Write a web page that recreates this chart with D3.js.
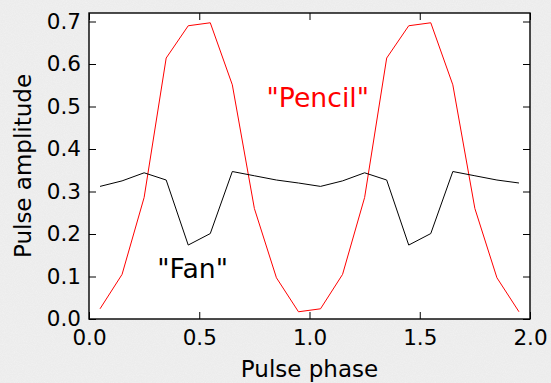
<!DOCTYPE html>
<html>
<head>
<meta charset="utf-8">
<script src="https://cdn.jsdelivr.net/npm/d3@7"></script>
<style>
  html, body { margin: 0; padding: 0; background: #efefef; }
  svg { display: block; }
  text { font-family: "DejaVu Sans", sans-serif; }
</style>
</head>
<body>
<svg id="chart" width="551" height="383"></svg>
<script>
// Pulse profile sampled at phase bin centres over two rotations
const phase = [0.05, 0.15, 0.25, 0.35, 0.45, 0.55, 0.65, 0.75, 0.85, 0.95,
               1.05, 1.15, 1.25, 1.35, 1.45, 1.55, 1.65, 1.75, 1.85, 1.95];
const pencil = [0.024, 0.105, 0.286, 0.614, 0.690, 0.697, 0.551, 0.260, 0.097, 0.017,
                0.024, 0.105, 0.286, 0.614, 0.690, 0.697, 0.551, 0.260, 0.097, 0.017];
const fan = [0.312, 0.325, 0.344, 0.327, 0.174, 0.201, 0.347, 0.337, 0.327, 0.320,
             0.312, 0.325, 0.344, 0.327, 0.174, 0.201, 0.347, 0.337, 0.327, 0.320];
const xTicks = [0.0, 0.5, 1.0, 1.5, 2.0];
const yTicks = [0.0, 0.1, 0.2, 0.3, 0.4, 0.5, 0.6, 0.7];
const xDomain = [0, 2];
const yDomain = [0, 0.72];

const W = 551, H = 383;
const margin = { left: 89, top: 13, right: 21, bottom: 64 };
const iw = W - margin.left - margin.right;
const ih = H - margin.top - margin.bottom;

const svg = d3.select("#chart");

// speckled paper-like page background
const defs = svg.append("defs");
const grain = defs.append("filter").attr("id", "grain")
  .attr("x", 0).attr("y", 0).attr("width", "100%").attr("height", "100%");
grain.append("feTurbulence").attr("type", "fractalNoise")
  .attr("baseFrequency", 0.9).attr("numOctaves", 2).attr("seed", 7).attr("result", "noise");
grain.append("feColorMatrix").attr("in", "noise").attr("type", "matrix")
  .attr("values", "0 0 0 0 1  0 0 0 0 1  0 0 0 0 1  0.55 0 0 0 -0.22")
  .attr("result", "speck");
grain.append("feComposite").attr("in", "speck").attr("in2", "SourceGraphic").attr("operator", "over");
svg.append("rect").attr("width", W).attr("height", H).attr("fill", "#ececec").attr("filter", "url(#grain)");

const g = svg.append("g").attr("transform", `translate(${margin.left},${margin.top})`);

const x = d3.scaleLinear().domain(xDomain).range([0, iw]);
const y = d3.scaleLinear().domain(yDomain).range([ih, 0]);

// plot area
g.append("rect").attr("width", iw).attr("height", ih).attr("fill", "#ffffff");

// data lines
const line = vals => d3.line().x((d, i) => x(phase[i])).y(d => y(d))(vals);
g.append("path").attr("d", line(pencil)).attr("fill", "none")
  .attr("stroke", "#ff0000").attr("stroke-width", 1.0).attr("stroke-linejoin", "round");
g.append("path").attr("d", line(fan)).attr("fill", "none")
  .attr("stroke", "#000000").attr("stroke-width", 1.0).attr("stroke-linejoin", "round");

// axes with inward ticks on all four sides
const tickLen = 7;
const fmt = d3.format(".1f");
const styleAxis = sel => {
  sel.select(".domain").remove();
  sel.selectAll(".tick line").attr("stroke", "#000").attr("stroke-width", 1);
  sel.selectAll(".tick text").attr("fill", "#000")
    .style("font-family", "DejaVu Sans, sans-serif").style("font-size", "21.5px");
};

g.append("g").attr("transform", `translate(0,${ih})`)
  .call(d3.axisBottom(x).tickValues(xTicks).tickFormat(fmt).tickSizeInner(-tickLen).tickSizeOuter(0).tickPadding(11))
  .call(styleAxis);
g.append("g")
  .call(d3.axisTop(x).tickValues(xTicks).tickFormat("").tickSizeInner(-tickLen).tickSizeOuter(0))
  .call(styleAxis);
g.append("g")
  .call(d3.axisLeft(y).tickValues(yTicks).tickFormat(fmt).tickSizeInner(-tickLen).tickSizeOuter(0).tickPadding(8))
  .call(styleAxis);
g.append("g").attr("transform", `translate(${iw},0)`)
  .call(d3.axisRight(y).tickValues(yTicks).tickFormat("").tickSizeInner(-tickLen).tickSizeOuter(0))
  .call(styleAxis);

// frame
g.append("rect").attr("width", iw).attr("height", ih)
  .attr("fill", "none").attr("stroke", "#000").attr("stroke-width", 1.4);

// axis titles
svg.append("text")
  .attr("x", margin.left + iw / 2).attr("y", 377)
  .attr("text-anchor", "middle").style("font-size", "23px").attr("fill", "#000")
  .text("Pulse phase");
svg.append("text")
  .attr("transform", `translate(31,${margin.top + ih / 2}) rotate(-90)`)
  .attr("text-anchor", "middle").style("font-size", "23px").attr("fill", "#000")
  .text("Pulse amplitude");

// curve labels
g.append("text")
  .attr("x", x(0.805)).attr("y", 107 - margin.top)
  .style("font-size", "26.7px").attr("fill", "#ff0000")
  .text('"Pencil"');
g.append("text")
  .attr("x", x(0.31)).attr("y", 277.5 - margin.top)
  .style("font-size", "26.7px").attr("fill", "#000")
  .text('"Fan"');
</script>
</body>
</html>
